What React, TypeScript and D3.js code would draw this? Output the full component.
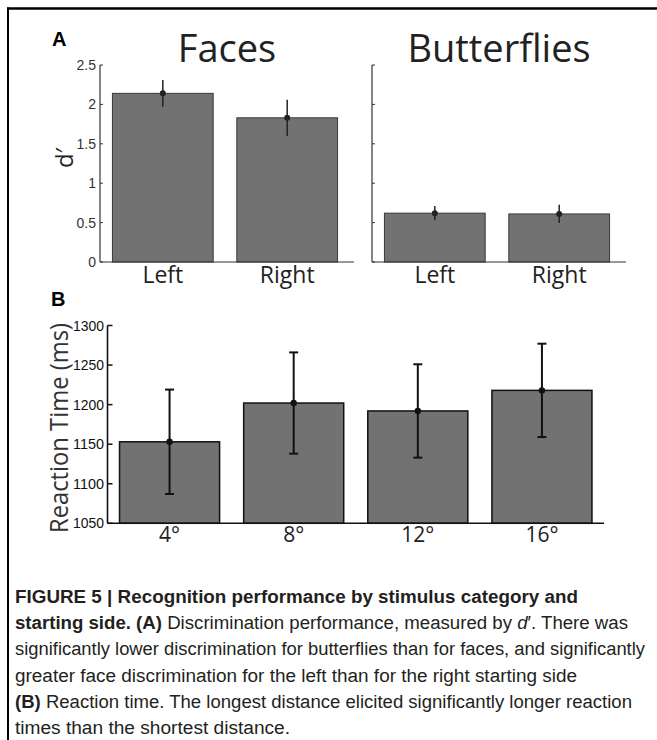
import * as d3 from "d3";
import { FC } from "react";

// panel A: d' by starting side
const sides = ["Left", "Right"];
const facesD = [2.14, 1.83];
const facesErr = [0.17, 0.23];
const butterfliesD = [0.62, 0.61];
const butterfliesErr = [0.09, 0.115];
const dTicks = [0, 0.5, 1, 1.5, 2, 2.5];

// panel B: reaction time by distance
const distances = ["4°", "8°", "12°", "16°"];
const rtMeans = [1153, 1202, 1192, 1218];
const rtErr = [66, 64, 59, 59];
const rtTicks = [1050, 1100, 1150, 1200, 1250, 1300];

const W = 657;
const H = 740;
const TITLE_FONT = "'Open Sans', 'Noto Sans', sans-serif";
const TICK_FONT = "'Liberation Sans', Arial, sans-serif";
const BAR_FILL = "#727272";

const yD = d3.scaleLinear([0, 2.5], [262, 65]);
const yRT = d3.scaleLinear([1050, 1300], [523.3, 325.5]);

const DPanel: FC<{
  x0: number;
  title: string;
  values: number[];
  errs: number[];
  labels: boolean;
}> = ({ x0, title, values, errs, labels }) => {
  const x = d3
    .scaleBand<string>()
    .domain(sides)
    .range([x0, x0 + 250])
    .paddingInner(0.19)
    .paddingOuter(0.1);
  const bw = x.bandwidth();
  return (
    <g>
      <text
        x={x0 + 127}
        y={62}
        textAnchor="middle"
        fontFamily={TITLE_FONT}
        fontSize={38}
        fill="#222"
      >
        {title}
      </text>
      {sides.map((s, i) => (
        <g key={s}>
          <rect
            x={x(s)}
            y={yD(values[i])}
            width={bw}
            height={yD(0) - yD(values[i])}
            fill={BAR_FILL}
            stroke="#3a3a3a"
            strokeWidth={1}
          />
          <line
            x1={x(s)! + bw / 2}
            x2={x(s)! + bw / 2}
            y1={yD(values[i] + errs[i])}
            y2={yD(values[i] - errs[i])}
            stroke="#222"
            strokeWidth={1.5}
          />
          <circle cx={x(s)! + bw / 2} cy={yD(values[i])} r={3} fill="#222" />
          <text
            x={x(s)! + bw / 2}
            y={283}
            textAnchor="middle"
            fontFamily={TITLE_FONT}
            fontSize={23}
            fill="#222"
          >
            {s}
          </text>
        </g>
      ))}
      {/* axes */}
      <line x1={x0} x2={x0} y1={yD(2.5)} y2={yD(0)} stroke="#333" strokeWidth={1.2} />
      <line x1={x0} x2={x0 + 254} y1={yD(0)} y2={yD(0)} stroke="#333" strokeWidth={1.2} />
      {dTicks.map((t) => (
        <g key={t}>
          <line x1={x0} x2={x0 + 3} y1={yD(t)} y2={yD(t)} stroke="#333" strokeWidth={1} />
          {labels && (
            <text
              x={x0 - 4}
              y={yD(t) + 5}
              textAnchor="end"
              fontFamily={TICK_FONT}
              fontSize={14}
              fill="#333"
            >
              {t}
            </text>
          )}
        </g>
      ))}
    </g>
  );
};

const captionLines: { parts: { t: string; b?: boolean; i?: boolean }[]; len: number }[] = [
  { parts: [{ t: "FIGURE 5 | Recognition performance by stimulus category and", b: true }], len: 563 },
  {
    parts: [
      { t: "starting side. (A)", b: true },
      { t: " Discrimination performance, measured by " },
      { t: "d", i: true },
      { t: "′. There was" },
    ],
    len: 613,
  },
  { parts: [{ t: "significantly lower discrimination for butterflies than for faces, and significantly" }], len: 630 },
  { parts: [{ t: "greater face discrimination for the left than for the right starting side" }], len: 562 },
  {
    parts: [
      { t: "(B)", b: true },
      { t: " Reaction time. The longest distance elicited significantly longer reaction" },
    ],
    len: 617,
  },
  { parts: [{ t: "times than the shortest distance." }], len: 275 },
];

const App: FC = () => {
  const xB = d3
    .scaleBand<string>()
    .domain(distances)
    .range([107.5, 604])
    .paddingInner(0.194)
    .paddingOuter(0.097);
  const bwB = xB.bandwidth();

  return (
    <svg
      width={W}
      height={H}
      style={{ position: "absolute", left: 0, top: 0, background: "#fff" }}
    >
      {/* frame */}
      <line x1={7} x2={W} y1={8.5} y2={8.5} stroke="#000" strokeWidth={2.5} />
      <line x1={8} x2={8} y1={7.5} y2={H} stroke="#000" strokeWidth={2} />

      {/* panel A */}
      <text x={52} y={46} fontFamily={TICK_FONT} fontWeight="bold" fontSize={20} fill="#000">
        A
      </text>
      <text
        transform={`translate(73, 158) rotate(-90)`}
        textAnchor="middle"
        fontFamily={TITLE_FONT}
        fontSize={24}
        fill="#222"
      >
        d′
      </text>
      <DPanel x0={100} title="Faces" values={facesD} errs={facesErr} labels={true} />
      <DPanel x0={372} title="Butterflies" values={butterfliesD} errs={butterfliesErr} labels={false} />

      {/* panel B */}
      <text x={51} y={306} fontFamily={TICK_FONT} fontWeight="bold" fontSize={20} fill="#000">
        B
      </text>
      <text
        transform={`translate(68, 428) rotate(-90)`}
        textAnchor="middle"
        fontFamily={TITLE_FONT}
        fontSize={26}
        fill="#333"
        textLength={210}
        lengthAdjust="spacingAndGlyphs"
      >
        Reaction Time (ms)
      </text>
      {distances.map((d, i) => {
        const cx = xB(d)! + bwB / 2;
        return (
          <g key={d}>
            <rect
              x={xB(d)}
              y={yRT(rtMeans[i])}
              width={bwB}
              height={yRT(1050) - yRT(rtMeans[i])}
              fill={BAR_FILL}
              stroke="#111"
              strokeWidth={1.5}
            />
            <line
              x1={cx}
              x2={cx}
              y1={yRT(rtMeans[i] + rtErr[i])}
              y2={yRT(rtMeans[i] - rtErr[i])}
              stroke="#111"
              strokeWidth={2}
            />
            {[rtMeans[i] + rtErr[i], rtMeans[i] - rtErr[i]].map((v) => (
              <line
                key={v}
                x1={cx - 4.5}
                x2={cx + 4.5}
                y1={yRT(v)}
                y2={yRT(v)}
                stroke="#111"
                strokeWidth={2}
              />
            ))}
            <circle cx={cx} cy={yRT(rtMeans[i])} r={3.2} fill="#111" />
            <text
              x={cx}
              y={541.5}
              textAnchor="middle"
              fontFamily={TITLE_FONT}
              fontSize={21}
              fill="#222"
            >
              {d}
            </text>
          </g>
        );
      })}
      <line x1={107.5} x2={107.5} y1={yRT(1300)} y2={yRT(1050)} stroke="#111" strokeWidth={1.6} />
      <line x1={107.5} x2={604} y1={yRT(1050)} y2={yRT(1050)} stroke="#111" strokeWidth={1.6} />
      {rtTicks.map((t) => (
        <g key={t}>
          <line x1={107.5} x2={112.5} y1={yRT(t)} y2={yRT(t)} stroke="#111" strokeWidth={1.5} />
          <text
            x={104}
            y={yRT(t) + 5}
            textAnchor="end"
            fontFamily={TICK_FONT}
            fontSize={14}
            fill="#111"
            textLength={31}
            lengthAdjust="spacingAndGlyphs"
          >
            {t}
          </text>
        </g>
      ))}

      {/* caption */}
      {captionLines.map((line, li) => (
        <text
          key={li}
          x={15}
          y={603 + li * 26.2}
          fontFamily={TICK_FONT}
          fontSize={18}
          fill="#231f20"
          textLength={line.len}
          lengthAdjust="spacingAndGlyphs"
        >
          {line.parts.map((p, pi) => (
            <tspan
              key={pi}
              fontWeight={p.b ? "bold" : "normal"}
              fontStyle={p.i ? "italic" : "normal"}
            >
              {p.t}
            </tspan>
          ))}
        </text>
      ))}
    </svg>
  );
};

export default App;
